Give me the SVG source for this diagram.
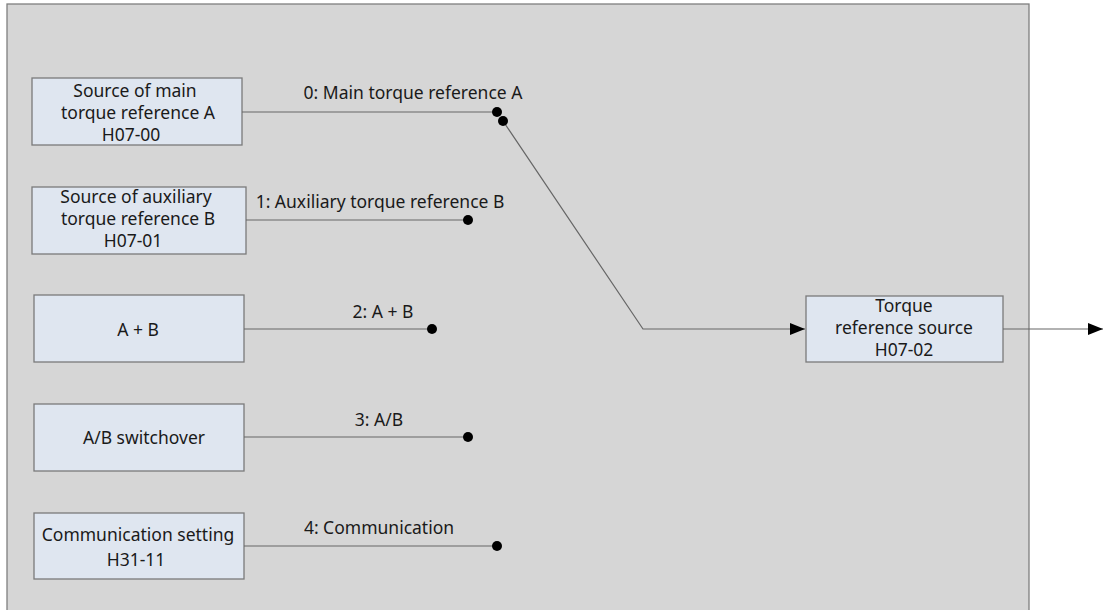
<svg xmlns="http://www.w3.org/2000/svg" width="1104" height="610" viewBox="0 0 1104 610">
<defs>
<style>
.box{fill:#dfe6f0;stroke:#7a7a7a;stroke-width:1.3}
.t{font-family:"Noto Sans","Open Sans",sans-serif;font-size:17.5px;fill:#1a1a1a;text-anchor:middle}
.ln{stroke:#666;stroke-width:1.2;fill:none}
.dot{fill:#000}
</style>
<marker id="arr" markerWidth="15" markerHeight="12" refX="15" refY="6" orient="auto" markerUnits="userSpaceOnUse">
<path d="M0,0 L15,6 L0,12 Z" fill="#000"/>
</marker>
</defs>
<rect x="7" y="4" width="1022" height="620" fill="#d6d6d6" stroke="#7f7f7f" stroke-width="1.3"/>
<g id="n0"><rect class="box" x="32" y="78" width="210" height="67"/>
<text class="t" x="135" y="97">Source of main</text><text class="t" x="138" y="119">torque reference A</text><text class="t" x="131" y="141">H07-00</text></g>
<g id="n1"><rect class="box" x="32" y="187" width="214" height="67"/>
<text class="t" x="136" y="203">Source of auxiliary</text><text class="t" x="138" y="225">torque reference B</text><text class="t" x="133" y="247">H07-01</text></g>
<g id="n2"><rect class="box" x="34" y="295" width="210" height="67"/>
<text class="t" x="138" y="336">A + B</text></g>
<g id="n3"><rect class="box" x="34" y="404" width="210" height="67"/>
<text class="t" x="144" y="444">A/B switchover</text></g>
<g id="n4"><rect class="box" x="34" y="513" width="210" height="66"/>
<text class="t" x="138" y="541">Communication setting</text><text class="t" x="136" y="566">H31-11</text></g>
<g id="n5"><rect class="box" x="806" y="296" width="197" height="66"/>
<text class="t" x="904" y="312">Torque</text><text class="t" x="904" y="334">reference source</text><text class="t" x="904" y="356">H07-02</text></g>
<g id="connectors">
<line class="ln" x1="242" y1="112" x2="497" y2="112"/>
<line class="ln" x1="246" y1="220" x2="468" y2="220"/>
<line class="ln" x1="244" y1="329" x2="432" y2="329"/>
<line class="ln" x1="244" y1="437" x2="468" y2="437"/>
<line class="ln" x1="244" y1="546" x2="497" y2="546"/>
<polyline class="ln" points="503,121 643,329 805,329" marker-end="url(#arr)"/>
<line class="ln" x1="1003" y1="329" x2="1103" y2="329" marker-end="url(#arr)"/>
<circle class="dot" cx="497" cy="112" r="5"/>
<circle class="dot" cx="503" cy="121" r="5"/>
<circle class="dot" cx="468" cy="220" r="5"/>
<circle class="dot" cx="432" cy="329" r="5"/>
<circle class="dot" cx="468" cy="437" r="5"/>
<circle class="dot" cx="497" cy="546" r="5"/>
<text class="t" x="413" y="99">0: Main torque reference A</text>
<text class="t" x="380" y="208">1: Auxiliary torque reference B</text>
<text class="t" x="383" y="318">2: A + B</text>
<text class="t" x="379" y="426">3: A/B</text>
<text class="t" x="379" y="534">4: Communication</text>
</g>
</svg>
